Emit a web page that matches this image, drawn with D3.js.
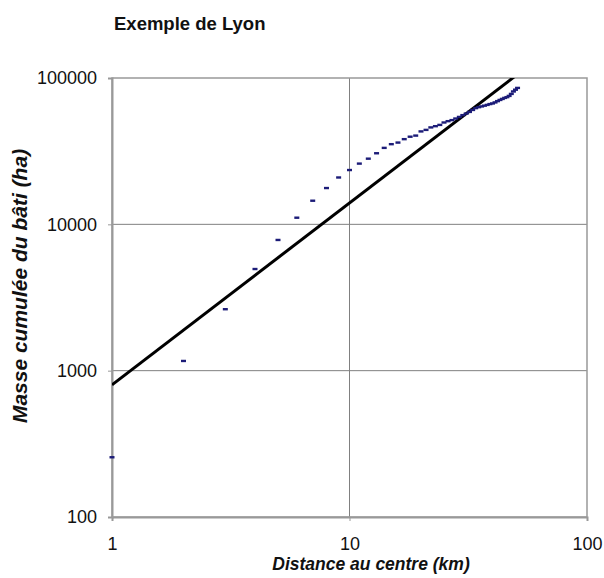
<!DOCTYPE html>
<html>
<head>
<meta charset="utf-8">
<script src="https://cdnjs.cloudflare.com/ajax/libs/d3/7.8.5/d3.min.js"></script>
<style>
  body { margin: 0; background: #fff; }
  svg { font-family: "Liberation Sans", Arial, sans-serif; }
  .tick text { font-size: 18px; fill: #111; }
</style>
</head>
<body>
<div id="chart"></div>
<script>
// Distance to the centre (km)
var distances = [1, 2, 3, 4, 5, 6, 7, 8, 9, 10,
  11, 12, 13, 14, 15, 16, 17, 18, 19, 20,
  21, 22, 23, 24, 25, 26, 27, 28, 29, 30,
  31, 32, 33, 34, 35, 36, 37, 38, 39, 40,
  41, 42, 43, 44, 45, 46, 47, 48, 49, 50, 51];

// Cumulated built mass (ha)
var masses = [256, 1165, 2630, 4950, 7820, 11100, 14500, 17700, 20900, 23500,
  26000, 28100, 30600, 33300, 35300, 36200, 38200, 39700, 40400, 43150,
  44200, 45950, 46850, 47800, 49650, 50700, 51550, 52850, 54200, 55750,
  57150, 58650, 60500, 62250, 63200, 63950, 64700, 65500, 66350, 67000,
  68100, 69500, 70800, 71950, 73100, 74000, 75450, 77850, 80900, 83200, 85550];

// Power-law trend: y = a * x^b
var trendA = 800;
var trendB = 1.243;
var trendX = [1, 51];

var xTicks = [1, 10, 100];
var yTicks = [100, 1000, 10000, 100000];

var margin = {top: 78, right: 17, bottom: 61, left: 112};
var width = 604 - margin.left - margin.right;
var height = 578 - margin.top - margin.bottom;

var svg = d3.select('#chart').append('svg')
    .attr('width', 604)
    .attr('height', 578);

var g = svg.append('g')
    .attr('transform', 'translate(' + margin.left + ',' + margin.top + ')');

var x = d3.scaleLog().domain([1, 100]).range([0, width]);
var y = d3.scaleLog().domain([100, 100000]).range([height, 0]);

// gridlines
g.selectAll('.vgrid')
    .data(xTicks.slice(1, -1))
  .enter().append('line')
    .attr('x1', function(d) { return x(d); })
    .attr('x2', function(d) { return x(d); })
    .attr('y1', 0)
    .attr('y2', height)
    .attr('stroke', '#808080')
    .attr('stroke-width', 1);

g.selectAll('.hgrid')
    .data(yTicks.slice(1, -1))
  .enter().append('line')
    .attr('x1', 0)
    .attr('x2', width)
    .attr('y1', function(d) { return y(d); })
    .attr('y2', function(d) { return y(d); })
    .attr('stroke', '#808080')
    .attr('stroke-width', 1);

// plot frame
g.append('rect')
    .attr('width', width)
    .attr('height', height)
    .attr('fill', 'none')
    .attr('stroke', '#999')
    .attr('stroke-width', 1.5);

// axes
var xAxis = d3.axisBottom(x)
    .tickValues(xTicks)
    .tickFormat(d3.format('d'))
    .tickSize(4)
    .tickPadding(16);
var yAxis = d3.axisLeft(y)
    .tickValues(yTicks)
    .tickFormat(d3.format('d'))
    .tickSize(4)
    .tickPadding(11);

g.append('g')
    .attr('class', 'x axis')
    .attr('transform', 'translate(0,' + height + ')')
    .call(xAxis)
    .call(function(s) { s.select('.domain').attr('stroke', '#999').attr('stroke-width', 2); })
    .call(function(s) { s.selectAll('.tick line').attr('stroke', '#999'); });

g.append('g')
    .attr('class', 'y axis')
    .call(yAxis)
    .call(function(s) { s.select('.domain').attr('stroke', '#999').attr('stroke-width', 2); })
    .call(function(s) { s.selectAll('.tick line').attr('stroke', '#999'); });

// clip for the trend line
svg.append('clipPath')
    .attr('id', 'plotClip')
  .append('rect')
    .attr('width', width)
    .attr('height', height);

// trend line
var trendLine = d3.line()
    .x(function(d) { return x(d); })
    .y(function(d) { return y(trendA * Math.pow(d, trendB)); });

g.append('path')
    .attr('clip-path', 'url(#plotClip)')
    .attr('d', trendLine(trendX))
    .attr('fill', 'none')
    .attr('stroke', '#000')
    .attr('stroke-width', 3);

// data dashes
g.selectAll('.pt')
    .data(distances)
  .enter().append('rect')
    .attr('class', 'pt')
    .attr('x', function(d) { return x(d) - 2.5; })
    .attr('y', function(d, i) { return y(masses[i]) - 1.2; })
    .attr('width', 5)
    .attr('height', 2.4)
    .attr('fill', '#1c1c78');

// titles
svg.append('text')
    .attr('x', 114)
    .attr('y', 29.5)
    .attr('font-size', 18.5)
    .attr('font-weight', 'bold')
    .attr('fill', '#111')
    .text('Exemple de Lyon');

svg.append('text')
    .attr('x', 371)
    .attr('y', 570)
    .attr('text-anchor', 'middle')
    .attr('font-size', 17.5)
    .attr('font-weight', 'bold')
    .attr('font-style', 'italic')
    .attr('fill', '#111')
    .text('Distance au centre (km)');

svg.append('text')
    .attr('transform', 'translate(27,286) rotate(-90)')
    .attr('text-anchor', 'middle')
    .attr('font-size', 21)
    .attr('font-weight', 'bold')
    .attr('font-style', 'italic')
    .attr('fill', '#111')
    .text('Masse cumulée du bâti (ha)');
</script>
</body>
</html>
